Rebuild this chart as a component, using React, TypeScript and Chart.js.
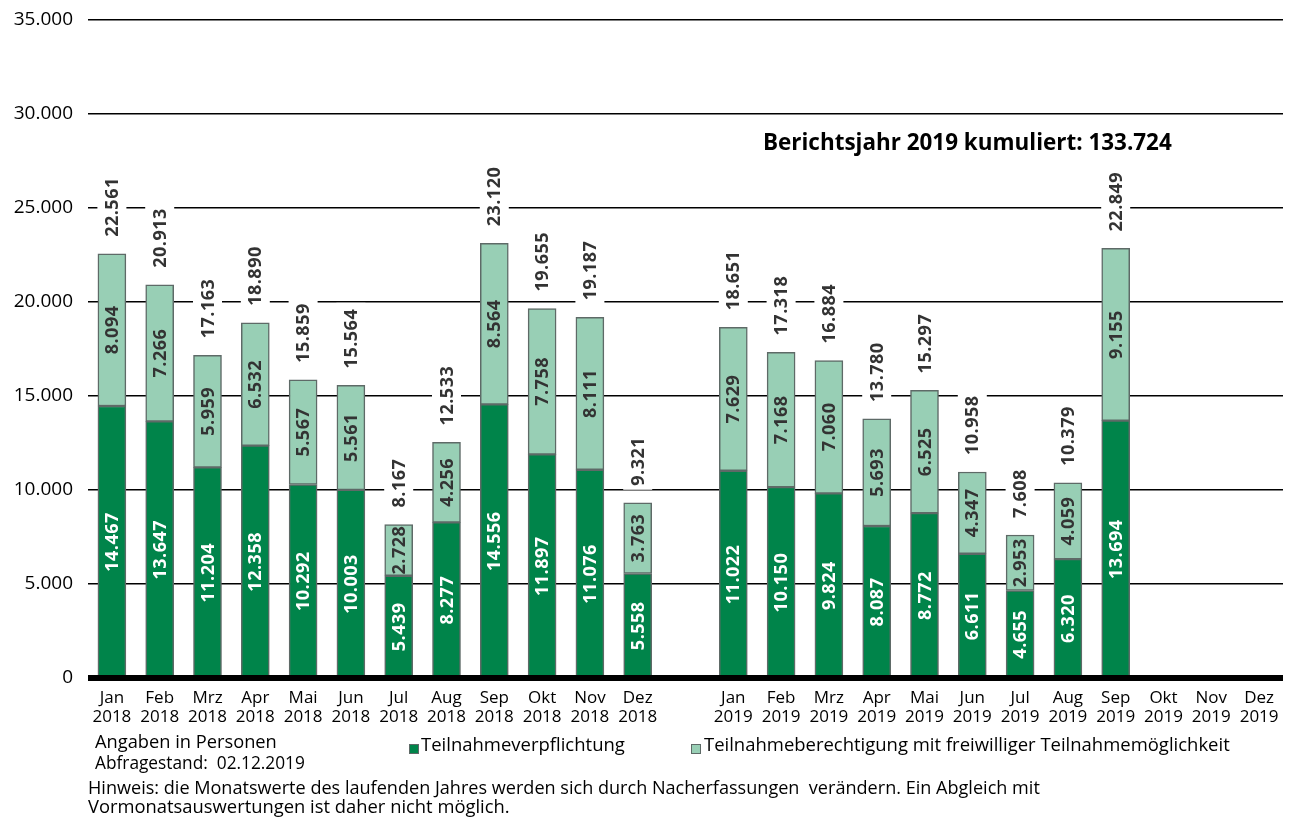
import React, { useEffect, useRef } from "react";
import { Chart, registerables } from "chart.js";

Chart.register(...registerables);

const months = ["Jan", "Feb", "Mrz", "Apr", "Mai", "Jun", "Jul", "Aug", "Sep", "Okt", "Nov", "Dez"];

const pflicht2018 = [14467, 13647, 11204, 12358, 10292, 10003, 5439, 8277, 14556, 11897, 11076, 5558];
const freiwillig2018 = [8094, 7266, 5959, 6532, 5567, 5561, 2728, 4256, 8564, 7758, 8111, 3763];
const pflicht2019 = [11022, 10150, 9824, 8087, 8772, 6611, 4655, 6320, 13694, null, null, null];
const freiwillig2019 = [7629, 7168, 7060, 5693, 6525, 4347, 2953, 4059, 9155, null, null, null];

const yTicks = [0, 5000, 10000, 15000, 20000, 25000, 30000, 35000];

const annotationText = "Berichtsjahr 2019 kumuliert: 133.724";
const legendPflicht = "Teilnahmeverpflichtung";
const legendFrei = "Teilnahmeberechtigung mit freiwilliger Teilnahmemöglichkeit";
const noteLine1 = "Angaben in Personen";
const noteLine2 = "Abfragestand:  02.12.2019";
const hinweis1 = "Hinweis: die Monatswerte des laufenden Jahres werden sich durch Nacherfassungen  verändern. Ein Abgleich mit";
const hinweis2 = "Vormonatsauswertungen ist daher nicht möglich.";

const categories: (string | string[])[] = [
  ...months.map((m) => [m, "2018"]),
  "",
  ...months.map((m) => [m, "2019"]),
];
const darkData: (number | null)[] = [...pflicht2018, null, ...pflicht2019];
const lightData: (number | null)[] = [...freiwillig2018, null, ...freiwillig2019];

const DARK = "#00844a";
const LIGHT = "#98cfb5";
const BORDER = "#5e6a67";
const FONT = "'Open Sans', 'DejaVu Sans', sans-serif";

const fmt = (v: number) => v.toLocaleString("de-DE");

function fitSize(ctx: CanvasRenderingContext2D, text: string, weight: string, base: number, target: number) {
  ctx.font = `${weight} ${base}px ${FONT}`;
  const w = ctx.measureText(text).width;
  return (base * target) / w;
}

function drawFit(ctx: CanvasRenderingContext2D, text: string, x: number, y: number, weight: string, base: number, target: number, color = "#000") {
  const s = fitSize(ctx, text, weight, base, target);
  ctx.font = `${weight} ${s}px ${FONT}`;
  ctx.fillStyle = color;
  ctx.textAlign = "left";
  ctx.textBaseline = "middle";
  ctx.fillText(text, x, y);
}

const labelPlugin = {
  id: "customLabels",
  afterDatasetsDraw(chart: any) {
    const ctx: CanvasRenderingContext2D = chart.ctx;
    const area = chart.chartArea;
    const yScale = chart.scales.y;
    const y0 = yScale.getPixelForValue(0);
    ctx.save();
    // baseline
    ctx.fillStyle = "#000";
    ctx.fillRect(area.left, y0 - 3, area.right - area.left, 6);

    // segment labels
    const valueFont = `bold 18px ${FONT}`;
    [darkData, lightData].forEach((arr, di) => {
      const meta = chart.getDatasetMeta(di);
      meta.data.forEach((el: any, i: number) => {
        const v = arr[i];
        if (v == null) return;
        const { x, y, base } = el.getProps(["x", "y", "base"], true);
        const cy = (y + base) / 2;
        ctx.save();
        ctx.translate(x, cy);
        ctx.rotate(-Math.PI / 2);
        ctx.font = valueFont;
        (ctx as any).letterSpacing = "0.5px";
        ctx.textAlign = "center";
        ctx.textBaseline = "middle";
        ctx.fillStyle = di === 0 ? "#ffffff" : "#333333";
        ctx.fillText(fmt(v), 0, 1);
        ctx.restore();
      });
    });

    // totals
    const meta1 = chart.getDatasetMeta(1);
    meta1.data.forEach((el: any, i: number) => {
      const a = darkData[i];
      const b = lightData[i];
      if (a == null || b == null) return;
      const total = a + b;
      const { x, y } = el.getProps(["x", "y"], true);
      const txt = fmt(total);
      ctx.save();
      ctx.font = valueFont;
      (ctx as any).letterSpacing = "0.5px";
      const w = ctx.measureText(txt).width;
      const start = y - 17;
      ctx.fillStyle = "#ffffff";
      ctx.fillRect(x - 14.5, start - w - 6, 29, w + 10);
      ctx.translate(x, start);
      ctx.rotate(-Math.PI / 2);
      ctx.textAlign = "left";
      ctx.textBaseline = "middle";
      ctx.fillStyle = "#333333";
      ctx.fillText(txt, 0, 1);
      ctx.restore();
    });

    // annotation
    drawFit(ctx, annotationText, 763, 144, "bold", 20, 409);

    // legend
    const sq = (x: number, y: number, c: string) => {
      ctx.fillStyle = c;
      ctx.fillRect(x, y - 5, 10, 10);
      ctx.strokeStyle = BORDER;
      ctx.lineWidth = 1;
      ctx.strokeRect(x + 0.5, y - 4.5, 9, 9);
    };
    sq(409, 749, DARK);
    drawFit(ctx, legendPflicht, 421, 746, "normal", 16, 204);
    sq(691, 749, LIGHT);
    drawFit(ctx, legendFrei, 704, 746, "normal", 16, 526);

    // notes
    drawFit(ctx, noteLine1, 95, 743, "normal", 16, 182);
    drawFit(ctx, noteLine2, 95, 764, "normal", 16, 210);
    drawFit(ctx, hinweis1, 88, 789, "normal", 16, 952);
    drawFit(ctx, hinweis2, 88, 808, "normal", 16, 422);
    ctx.restore();
  },
};

export default function App() {
  const ref = useRef<HTMLCanvasElement | null>(null);
  useEffect(() => {
    document.body.style.margin = "0";
    const canvas = ref.current;
    if (!canvas) return;
    const chart = new Chart(canvas, {
      type: "bar",
      data: {
        labels: categories,
        datasets: [
          {
            label: legendPflicht,
            data: darkData,
            backgroundColor: DARK,
            borderColor: BORDER,
            borderWidth: 1.5,
            borderSkipped: false,
            barThickness: 28,
          },
          {
            label: legendFrei,
            data: lightData,
            backgroundColor: LIGHT,
            borderColor: BORDER,
            borderWidth: 1.5,
            borderSkipped: false,
            barThickness: 28,
          },
        ] as any,
      },
      options: {
        responsive: false,
        animation: false,
        layout: { padding: { top: 20, right: 10, left: 0, bottom: 0 } },
        plugins: {
          legend: { display: false },
          tooltip: { enabled: false },
          title: { display: false },
        },
        scales: {
          x: {
            stacked: true,
            grid: { display: false },
            border: { display: false },
            ticks: {
              color: "#000",
              font: { family: FONT, size: 17, lineHeight: 1.15 },
              maxRotation: 0,
              autoSkip: false,
              padding: 2,
            },
            afterFit: (scale: any) => {
              scale.height = 140;
            },
          },
          y: {
            stacked: true,
            min: 0,
            max: 35000,
            afterBuildTicks: (scale: any) => {
              scale.ticks = yTicks.map((v) => ({ value: v }));
            },
            grid: {
              color: "#000",
              lineWidth: (c: any) => (c.tick && c.tick.value === 0 ? 0 : 1.6),
              drawTicks: false,
            },
            border: { display: false },
            ticks: {
              color: "#000",
              font: { family: FONT, size: 19 },
              padding: 15,
              callback: (v: any) => fmt(Number(v)),
            },
            afterFit: (scale: any) => {
              scale.width = 88;
              scale.paddingTop = 0;
              scale.paddingBottom = 0;
            },
          },
        },
      } as any,
      plugins: [labelPlugin],
    });
    return () => chart.destroy();
  }, []);
  return (
    <div style={{ position: "fixed", left: 0, top: 0, width: 1293, height: 818, background: "#fff" }}>
      <canvas ref={ref} width={1293} height={818} style={{ width: 1293, height: 818, display: "block" }} />
    </div>
  );
}
